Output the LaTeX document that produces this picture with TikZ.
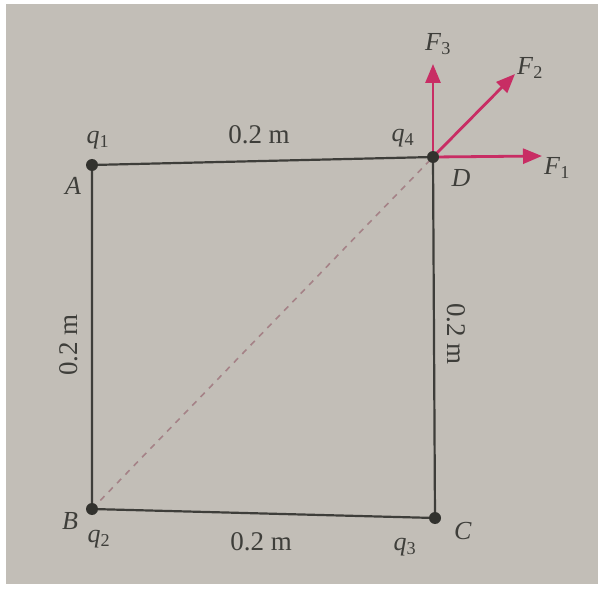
\documentclass[tikz,border=0pt]{standalone}
\usepackage{fontspec}
\setmainfont{Liberation Serif}
\usetikzlibrary{arrows.meta}
\definecolor{paper}{RGB}{194,190,183}
\definecolor{ink}{RGB}{62,62,58}
\definecolor{force}{RGB}{200,45,100}
\definecolor{diag}{RGB}{165,130,135}
\tikzset{
  side/.style={draw=ink, line width=2.2pt},
  charge/.style={circle, fill=ink!80!black, inner sep=0pt, minimum size=12pt},
  lbl/.style={text=ink, font=\fontsize{26}{28}\selectfont, inner sep=0pt},
  dim/.style={text=ink, font=\fontsize{27}{30}\selectfont, inner sep=0pt},
  forcearrow/.style={draw=force, line width=2.8pt, -{Triangle[length=19pt,width=15pt]}},
  diagonal/.style={draw=diag, line width=1.6pt, dash pattern=on 6pt off 6pt}
}
\begin{document}
\begin{tikzpicture}[x=1pt,y=-1pt]
\useasboundingbox (0,0) rectangle (598,591);
\fill[white] (0,0) rectangle (598,591);
\fill[paper] (6,4) rectangle (598,584);
% corners
\coordinate (A) at (92,165);
\coordinate (D) at (433,157);
\coordinate (B) at (92,509);
\coordinate (C) at (435,518);
% diagonal
\draw[diagonal] (B) -- (D);
% sides
\draw[side] (A) -- (D) -- (C) -- (B) -- cycle;
% force arrow tips
\coordinate (T3) at (433,64);
\coordinate (T2) at (515,74);
\coordinate (T1) at (542,156);
\draw[forcearrow] (D) -- (T3);
\draw[forcearrow] (D) -- (T2);
\draw[forcearrow] (D) -- (T1);
% dots
\node[charge] (dA) at (A) {};
\node[charge] (dB) at (B) {};
\node[charge] (dC) at (C) {};
\node[charge] (dD) at (D) {};
% labels
\node[lbl] (lq1) at (98,140) {\textit{q}\textsubscript{1}};
\node[lbl] (lA) at (73,186) {\textit{A}};
\node[lbl] (lB) at (70,521) {\textit{B}};
\node[lbl] (lq2) at (99,539) {\textit{q}\textsubscript{2}};
\node[lbl] (lC) at (463,531) {\textit{C}};
\node[lbl] (lq3) at (405,547) {\textit{q}\textsubscript{3}};
\node[lbl] (lq4) at (403,138) {\textit{q}\textsubscript{4}};
\node[lbl] (lD) at (461,178) {\textit{D}};
\node[lbl] (lF3) at (438,44) {\textit{F}\textsubscript{3}};
\node[lbl] (lF2) at (530,68) {\textit{F}\textsubscript{2}};
\node[lbl] (lF1) at (557,168) {\textit{F}\textsubscript{1}};
% dimensions
\node[dim] (mTop) at (259,135) {0.2 m};
\node[dim] (mBot) at (261,542) {0.2 m};
\node[dim, rotate=90] (mLeft) at (69,345) {0.2 m};
\node[dim, rotate=-90] (mRight) at (456,334) {0.2 m};
\end{tikzpicture}
\end{document}
